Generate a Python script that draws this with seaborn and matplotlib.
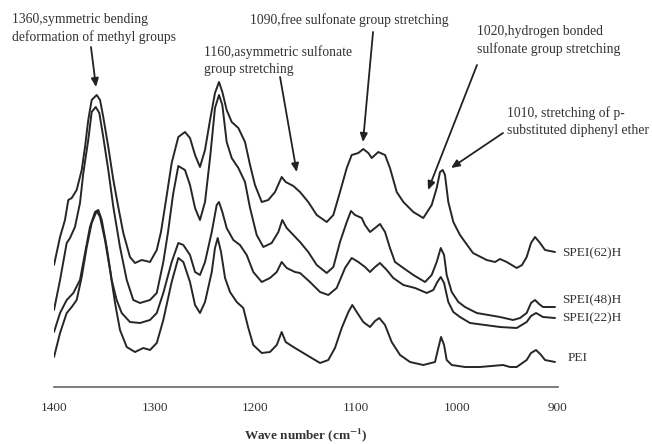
import matplotlib
matplotlib.use("Agg")
import matplotlib.pyplot as plt
import seaborn as sns
import pandas as pd

# ---- data (wavenumber in cm^-1, absorbance in arbitrary stacked units) ----
w_62 = [1400, 1394.0, 1389.1, 1385.8, 1382.4, 1377.5, 1372.5, 1369.2, 1366.0, 1362.6,
        1357.6, 1354.3, 1351.1, 1346.1, 1341.1, 1336.2, 1331.2, 1324.6, 1319.6, 1312.9,
        1304.7, 1298.0, 1293.8, 1288.8, 1283.2, 1276.6, 1270.0, 1265.0, 1260.0, 1255.1,
        1250.1, 1245.1, 1240.2, 1236.2, 1232.9, 1228.6, 1223.6, 1217.0, 1210.4, 1205.4,
        1200.5, 1193.8, 1187.3, 1180.6, 1174.0, 1170.0, 1162.4, 1155.8, 1147.6, 1139.2,
        1129.3, 1122.7, 1116.1, 1109.4, 1104.5, 1097.9, 1093.0, 1088.0, 1084.6, 1078.1,
        1071.4, 1066.5, 1059.8, 1053.2, 1043.3, 1033.4, 1025.1, 1020.1, 1016.8, 1014.1,
        1011.9, 1008.6, 1003.6, 997.0, 992.0, 984.1, 970.5, 962.2, 957.3, 950.6,
        940.7, 935.4, 930.8, 926.5, 922.5, 917.5, 912.6, 902.7]
a_62 = [122, 150, 167, 187, 189, 197, 217, 240, 267, 287,
        292, 287, 270, 240, 207, 180, 154, 130, 124, 127,
        125, 137, 155, 187, 224, 250, 255, 249, 232, 220,
        237, 267, 294, 305, 295, 277, 265, 259, 245, 222,
        202, 185, 187, 195, 210, 205, 201, 195, 185, 172,
        165, 172, 195, 219, 232, 234, 238, 234, 229, 235,
        232, 219, 195, 185, 175, 169, 182, 199, 215, 217,
        212, 185, 165, 152, 145, 134, 127, 125, 128, 125,
        119, 122, 130, 144, 150, 144, 137, 135]

w_48 = [1400, 1394.0, 1387.4, 1384.1, 1379.2, 1374.2, 1370.9, 1366.0, 1362.6, 1358.6,
        1355.0, 1351.1, 1346.1, 1341.1, 1334.5, 1327.8, 1321.3, 1314.6, 1304.7, 1298.0,
        1291.5, 1286.8, 1281.9, 1276.6, 1270.0, 1265.0, 1260.0, 1255.1, 1250.1, 1245.1,
        1240.2, 1236.2, 1232.9, 1228.6, 1223.6, 1217.0, 1210.4, 1205.4, 1198.8, 1192.2,
        1183.9, 1177.3, 1173.4, 1169.0, 1162.4, 1155.8, 1147.6, 1139.2, 1129.3, 1122.7,
        1116.1, 1109.4, 1105.2, 1101.2, 1094.5, 1091.3, 1086.3, 1081.3, 1076.4, 1071.4,
        1066.5, 1061.5, 1053.2, 1043.3, 1031.7, 1025.1, 1020.1, 1016.1, 1012.8, 1010.2,
        1005.2, 998.6, 992.0, 980.4, 957.3, 944.3, 937.4, 930.8, 926.5, 922.5,
        918.5, 914.6, 902.7]
a_48 = [77, 107, 144, 149, 160, 184, 214, 247, 275, 280,
        274, 250, 217, 180, 140, 107, 87, 84, 87, 94,
        125, 155, 192, 221, 217, 202, 179, 167, 185, 229,
        279, 292, 282, 245, 229, 219, 205, 179, 152, 140,
        144, 155, 167, 159, 152, 145, 135, 122, 114, 120,
        145, 165, 176, 172, 169, 162, 155, 159, 163, 155,
        139, 125, 119, 112, 105, 112, 125, 139, 132, 112,
        95, 85, 80, 74, 70, 67, 69, 74, 84, 87,
        83, 80, 80]

w_22 = [1400, 1394.0, 1387.4, 1380.8, 1374.2, 1369.2, 1364.3, 1359.3, 1356.0, 1352.6,
        1347.7, 1342.7, 1337.8, 1332.8, 1324.6, 1314.6, 1304.7, 1298.0, 1291.5, 1283.2,
        1276.6, 1271.6, 1265.0, 1260.0, 1255.1, 1250.1, 1243.4, 1238.5, 1236.2, 1232.9,
        1228.6, 1222.0, 1215.4, 1208.7, 1202.2, 1193.8, 1185.6, 1178.9, 1174.0, 1169.0,
        1160.8, 1155.8, 1145.9, 1135.9, 1127.7, 1119.4, 1111.1, 1104.5, 1097.9, 1091.3,
        1086.3, 1081.3, 1076.4, 1069.7, 1063.2, 1053.2, 1041.6, 1030.0, 1023.5, 1019.5,
        1016.1, 1012.8, 1008.6, 1003.6, 997.0, 987.0, 957.3, 940.7, 930.8, 926.5,
        921.5, 914.6, 902.7]
a_22 = [55, 74, 87, 94, 107, 134, 160, 175, 177, 167,
        140, 107, 87, 74, 65, 64, 67, 74, 94, 125,
        144, 142, 132, 115, 112, 125, 155, 182, 185, 175,
        159, 147, 142, 132, 115, 105, 109, 115, 125, 119,
        115, 114, 105, 95, 92, 99, 119, 129, 125, 120,
        115, 120, 124, 117, 109, 102, 99, 94, 97, 105,
        110, 104, 85, 75, 70, 64, 60, 59, 65, 71,
        74, 70, 69]

w_pei = [1400, 1394.0, 1387.4, 1382.4, 1377.5, 1372.5, 1367.5, 1362.6, 1357.6, 1354.3,
         1349.4, 1344.4, 1339.4, 1334.5, 1327.8, 1319.6, 1311.4, 1304.7, 1298.0, 1291.5,
         1283.2, 1276.6, 1271.6, 1265.0, 1260.0, 1255.1, 1250.1, 1243.4, 1240.2, 1237.5,
         1234.2, 1230.2, 1225.3, 1218.6, 1212.1, 1207.1, 1202.2, 1193.8, 1185.6, 1178.9,
         1174.0, 1170.0, 1162.4, 1155.8, 1145.9, 1135.9, 1127.7, 1121.1, 1114.4, 1107.8,
         1103.9, 1099.5, 1093.0, 1086.3, 1081.3, 1077.1, 1071.4, 1064.8, 1056.5, 1046.6,
         1033.4, 1021.8, 1018.5, 1015.8, 1012.8, 1010.2, 1005.2, 992.0, 977.1, 954.3,
         947.3, 940.7, 930.8, 926.5, 921.5, 916.5, 912.6, 902.7]
a_pei = [30, 54, 74, 80, 87, 110, 140, 164, 176, 170,
         147, 117, 84, 57, 40, 35, 39, 37, 44, 67,
         105, 129, 125, 105, 82, 74, 85, 115, 139, 149,
         135, 109, 95, 85, 79, 59, 42, 34, 35, 42,
         55, 45, 40, 36, 30, 24, 27, 39, 59, 75,
         82, 75, 65, 60, 66, 69, 62, 45, 32, 25,
         22, 25, 39, 50, 42, 27, 22, 20, 20, 22,
         20, 20, 27, 34, 37, 32, 27, 25]

series_names = ["SPEI(62)H", "SPEI(48)H", "SPEI(22)H", "PEI"]
x_ticks = [1400, 1300, 1200, 1100, 1000, 900]

annotation_texts = [
    ["1360,symmetric bending", "deformation of methyl groups"],
    ["1160,asymmetric sulfonate", "group stretching"],
    ["1090,free sulfonate group stretching"],
    ["1020,hydrogen bonded", "sulfonate group stretching"],
    ["1010, stretching of p-", "substituted diphenyl ether"],
]
arrow_from = [(1363.3, 340), (1175.6, 310), (1083.3, 355), (980.1, 322), (954.3, 254)]
arrow_to = [(1358.3, 300), (1159.1, 215), (1093.3, 245), (1028.7, 197), (1005.9, 219)]

frames = []
for name, w, a in zip(series_names, [w_62, w_48, w_22, w_pei], [a_62, a_48, a_22, a_pei]):
    frames.append(pd.DataFrame({"wavenumber": w, "absorbance": a, "sample": name}))
df = pd.concat(frames, ignore_index=True)

# ---- style ----
sns.set_style("white")
plt.rcParams["font.family"] = ["Liberation Serif", "DejaVu Serif"]
plt.rcParams["mathtext.fontset"] = "stix"

W, H = 652, 444
fig = plt.figure(figsize=(W / 100, H / 100), dpi=100)
ax = fig.add_axes([54 / W, (H - 387) / H, (557.7 - 54) / W, 387 / H])

line_color = "#262626"
for name in series_names:
    sns.lineplot(data=df[df["sample"] == name], x="wavenumber", y="absorbance",
                 sort=False, estimator=None, color=line_color, linewidth=1.4, ax=ax)

ax.set_xlim(1400, 900)
ax.set_ylim(0, 387)
ax.set_xticks(x_ticks)
ax.set_xticklabels([str(t) for t in x_ticks])
ax.set_yticks([])
ax.set_xlabel("")
ax.set_ylabel("")
for s in ["top", "left", "right"]:
    ax.spines[s].set_visible(False)
ax.spines["bottom"].set_color("#666666")
ax.spines["bottom"].set_linewidth(1.2)
ax.tick_params(axis="x", direction="out", length=3, width=1.0, color="#666666",
               labelsize=9.5, labelcolor="#333333", pad=8)
ax.patch.set_alpha(0)

# series labels at the right end
label_pos = {"SPEI(62)H": (562, 253), "SPEI(48)H": (562, 300),
             "SPEI(22)H": (562, 318), "PEI": (568, 358)}
for name in series_names:
    px, py = label_pos[name]
    fig.text(px / W, 1 - py / H, name, ha="left", va="center", fontsize=9.5,
             color="#333333")

# annotation texts (pixel positions of first line) and arrows
text_pos = [(12, 20), (204, 52), (250, 20), (477, 32), (507, 113)]
for lines, (tx, ty), start, end in zip(annotation_texts, text_pos, arrow_from, arrow_to):
    for i, ln in enumerate(lines):
        fig.text(tx / W, 1 - (ty + 17.5 * i) / H, ln, ha="left", va="center",
                 fontsize=9.8, color="#333333")
    ax.annotate("", xy=end, xytext=start,
                arrowprops=dict(arrowstyle="-|>,head_length=0.5,head_width=0.22",
                                color="#222222", lw=1.3, shrinkA=0, shrinkB=0))

fig.text(305.5 / W, 1 - 435 / H, r"Wave number (cm$^{\mathbf{-1}}$)", ha="center",
         va="center", fontsize=9.5, fontweight="bold", color="#333333")

fig.savefig("out.png", dpi=100)
